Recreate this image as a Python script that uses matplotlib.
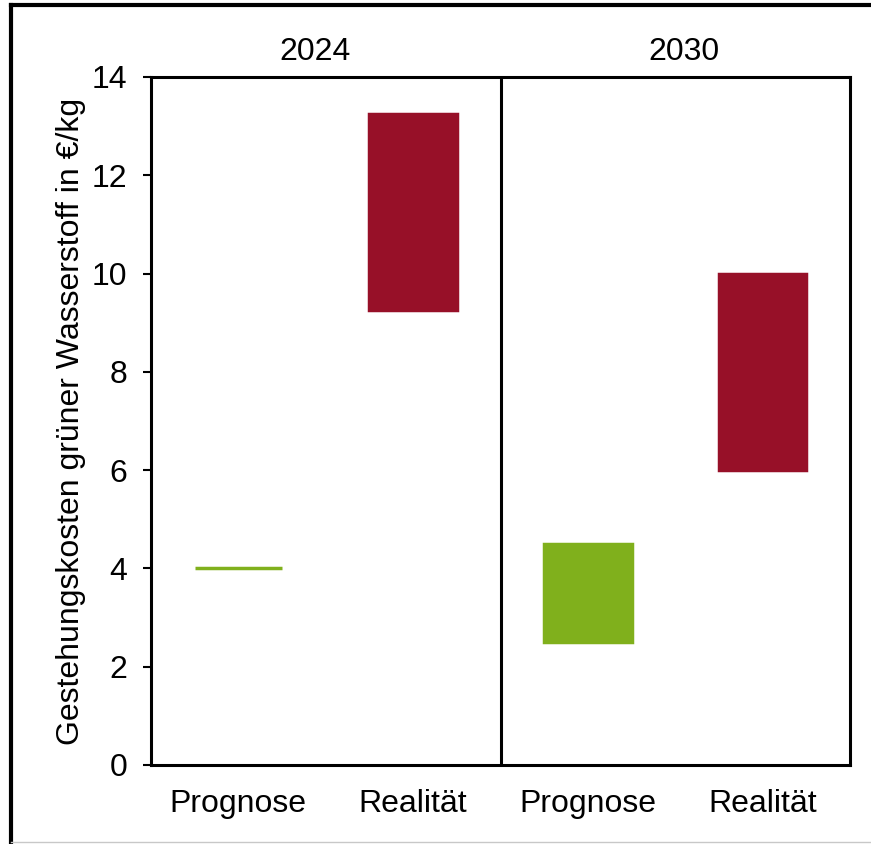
import matplotlib
matplotlib.use("Agg")
import matplotlib.pyplot as plt
from matplotlib.lines import Line2D

plt.rcParams['font.family'] = ['Liberation Sans', 'DejaVu Sans']

# Daten
kategorien = ["Prognose", "Realität", "Prognose", "Realität"]
jahre = ["2024", "2030"]
unten = [4.0, 9.25, 2.5, 6.0]
oben = [4.0, 13.25, 4.5, 10.0]
farben = ["#80B01C", "#971028", "#80B01C", "#971028"]

fig = plt.figure(figsize=(8.71, 8.44), dpi=100)
ax = fig.add_axes([151 / 871, 79 / 844, 699 / 871, 688 / 844])

x = list(range(len(kategorien)))
hoehe = [o - u for o, u in zip(oben, unten)]
ax.bar(x, hoehe, bottom=unten, width=0.5, color=farben,
       edgecolor=farben, linewidth=2.5, zorder=2)

ax.set_xlim(-0.5, 3.5)
ax.set_ylim(0, 14)
ax.set_yticks(range(0, 15, 2))
ax.set_xticks(x)
ax.set_xticklabels(kategorien)
ax.tick_params(axis='x', length=0, pad=17, labelsize=23)
ax.tick_params(axis='y', length=6, width=1.5, pad=11, labelsize=23, direction='out')

for s in ax.spines.values():
    s.set_linewidth(2.2)

# Trennlinie zwischen den Jahren
ax.axvline(1.5, color='black', lw=2.2)

# Jahresbeschriftung oben (in Excel leicht versetzt)
for xpos, j in zip([0.44, 2.55], jahre):
    ax.text(xpos, 1.036, j, transform=ax.get_xaxis_transform(),
            ha='center', va='center', fontsize=23)

ax.set_ylabel("Gestehungskosten grüner Wasserstoff in €/kg", fontsize=23)
ax.yaxis.set_label_coords(-0.093, 0.5)

# Rahmen um die Grafik
fig.add_artist(Line2D([11 / 871, 11 / 871], [2 / 844, 839 / 844], color='black', lw=3,
                      transform=fig.transFigure))
fig.add_artist(Line2D([11 / 871, 1.0], [839 / 844, 839 / 844], color='black', lw=3,
                      transform=fig.transFigure))
fig.add_artist(Line2D([11 / 871, 1.0], [2 / 844, 2 / 844], color='#c8c8c8', lw=1,
                      transform=fig.transFigure))

fig.savefig("out.png", dpi=100)
